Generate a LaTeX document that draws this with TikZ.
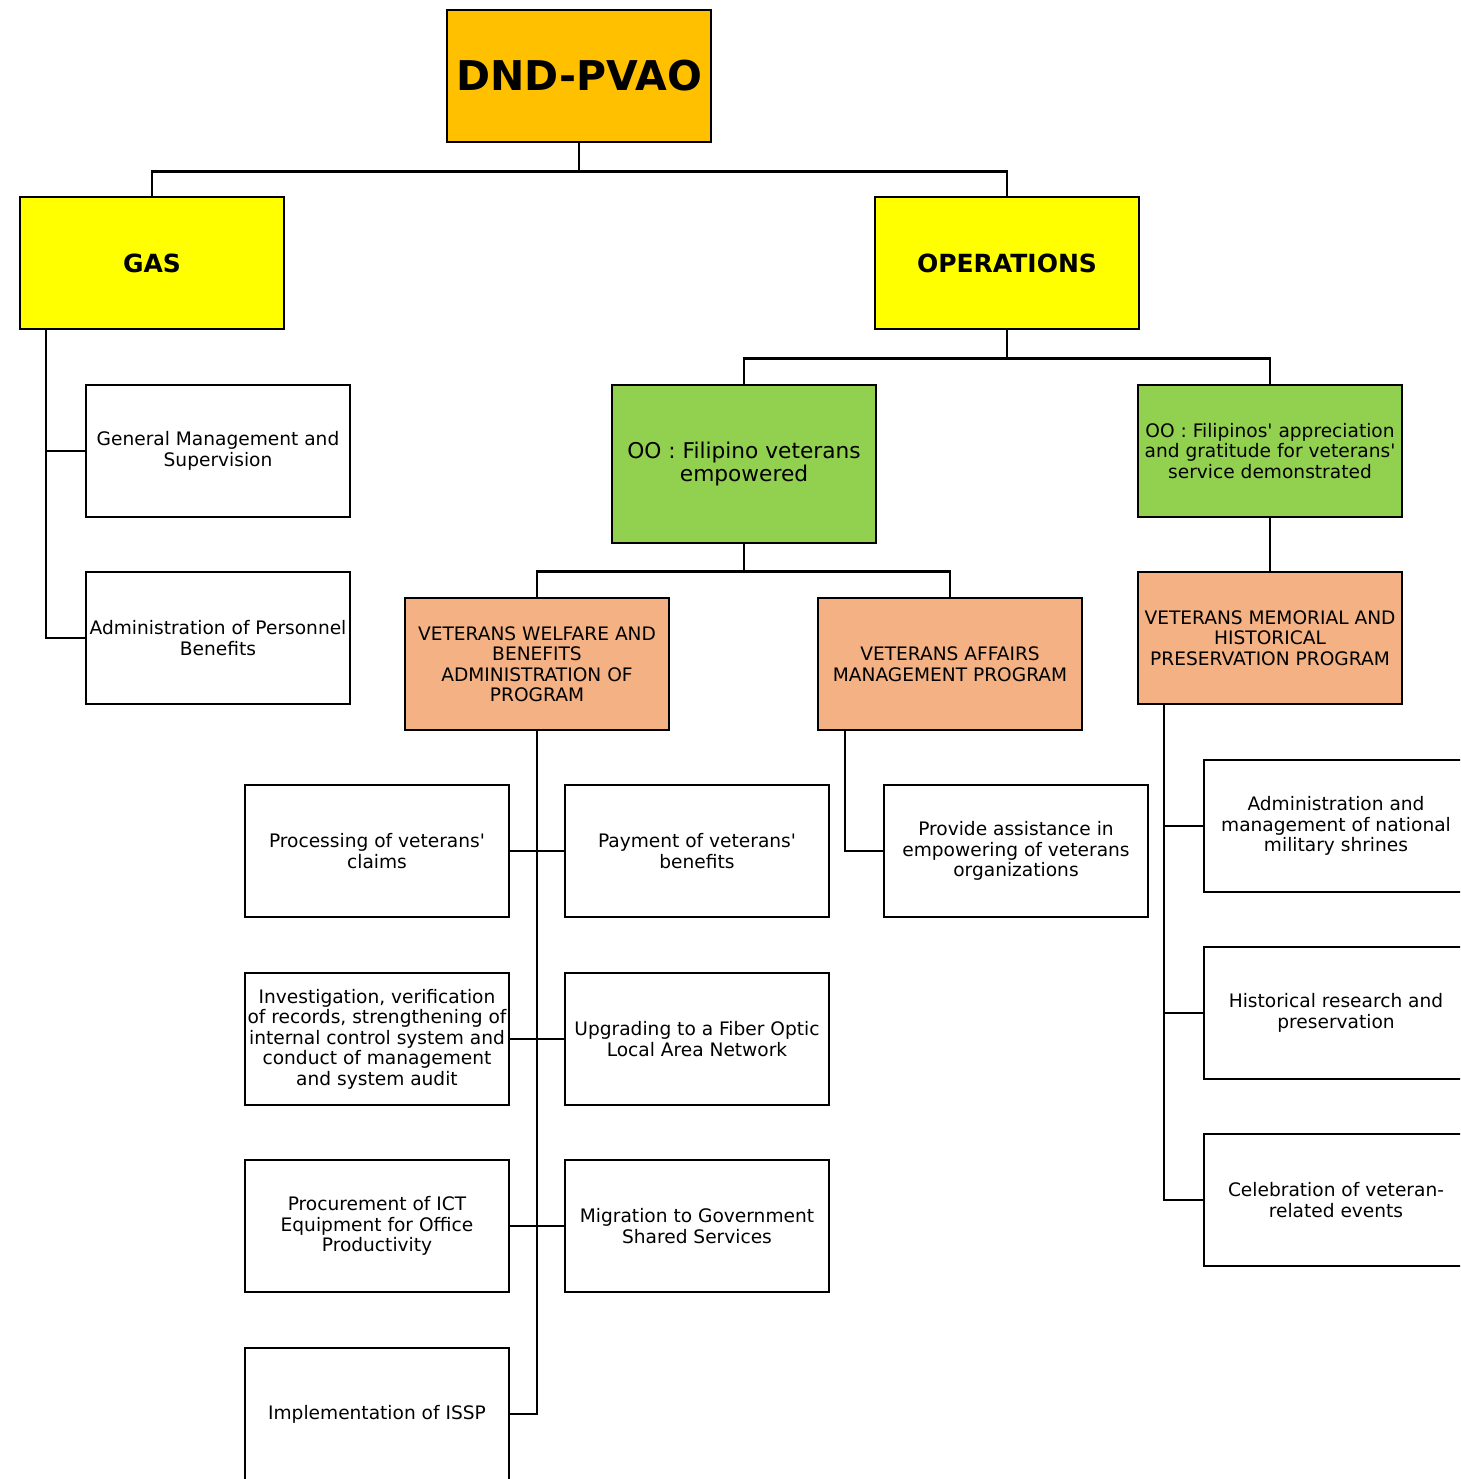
\documentclass[tikz,border=0pt]{standalone}
\usepackage{fontspec}
\setmainfont{DejaVu Sans}
\usepackage{xcolor}
\usepackage{tikz}
\definecolor{topgold}{HTML}{FFC000}
\definecolor{unityellow}{HTML}{FFFF00}
\definecolor{oogreen}{HTML}{92D050}
\definecolor{progsalmon}{HTML}{F4B183}
\newcommand{\aps}{\textquotesingle}
\tikzset{
  box/.style={draw=black, line width=2.9pt, fill=white, inner sep=0pt,
    minimum width=264pt, minimum height=132pt, align=center,
    font=\fontsize{18.6}{20.5}\selectfont},
  topbox/.style={box, fill=topgold, font=\fontsize{41}{46}\selectfont\bfseries},
  unitbox/.style={box, fill=unityellow, font=\fontsize{25}{28}\selectfont\bfseries},
  oobox/.style={box, fill=oogreen},
  progbox/.style={box, fill=progsalmon},
  link/.style={line width=2.9pt, draw=black}
}

\begin{document}
\begin{tikzpicture}[x=1pt, y=-1pt]
  \useasboundingbox (0,0) rectangle (1460,1479);
  \clip (0,0) rectangle (1460,1479);

  % top levels
  \node[topbox] (dnd) at (579,76) {DND-PVAO};
  \node[unitbox] (gas) at (152,263) {GAS};
  \node[unitbox] (ops) at (1007,263) {OPERATIONS};

  % GAS programs
  \node[box] (gms) at (218,451) {General Management and\\Supervision};
  \node[box] (apb) at (218,638) {Administration of Personnel\\Benefits};

  % organizational outcomes
  \node[oobox, minimum height=158pt, font=\fontsize{21.7}{23.5}\selectfont] (oo1) at (744,464)
    {OO : Filipino veterans\\empowered};
  \node[oobox] (oo2) at (1270,451)
    {OO : Filipinos\aps{} appreciation\\and gratitude for veterans\aps\\service demonstrated};

  % programs
  \node[progbox] (vwb) at (537,664)
    {VETERANS WELFARE AND\\BENEFITS\\ADMINISTRATION OF\\PROGRAM};
  \node[progbox] (vam) at (950,664) {VETERANS AFFAIRS\\MANAGEMENT PROGRAM};
  \node[progbox] (vmh) at (1270,638)
    {VETERANS MEMORIAL AND\\HISTORICAL\\PRESERVATION PROGRAM};

  % welfare and benefits activities
  \node[box] (pvc) at (377,851) {Processing of veterans\aps\\claims};
  \node[box] (inv) at (377,1039) {Investigation, verification\\of records, strengthening of\\internal control system and\\conduct of management\\and system audit};
  \node[box] (ict) at (377,1226) {Procurement of ICT\\Equipment for Office\\Productivity};
  \node[box] (issp) at (377,1414) {Implementation of ISSP};
  \node[box] (pay) at (697,851) {Payment of veterans\aps\\benefits};
  \node[box] (fib) at (697,1039) {Upgrading to a Fiber Optic\\Local Area Network};
  \node[box] (mig) at (697,1226) {Migration to Government\\Shared Services};

  % affairs management activity
  \node[box] (pae) at (1016,851) {Provide assistance in\\empowering of veterans\\organizations};

  % memorial activities
  \node[box] (adm) at (1336,826) {Administration and\\management of national\\military shrines};
  \node[box] (his) at (1336,1013) {Historical research and\\preservation};
  \node[box] (cel) at (1336,1200) {Celebration of veteran-\\related events};

  % bus points
  \coordinate (gasbus) at (46,329);
  \coordinate (vambus) at (845,730);
  \coordinate (vmhbus) at (1164,704);

  % connectors
  \draw[link] (dnd.south) -- ++(0,28) -| (gas.north);
  \draw[link] (dnd.south) -- ++(0,28) -| (ops.north);
  \draw[link] (gasbus) |- (gms.west);
  \draw[link] (gasbus) |- (apb.west);
  \draw[link] (ops.south) -- ++(0,28) -| (oo1.north);
  \draw[link] (ops.south) -- ++(0,28) -| (oo2.north);
  \draw[link] (oo1.south) -- ++(0,27) -| (vwb.north);
  \draw[link] (oo1.south) -- ++(0,27) -| (vam.north);
  \draw[link] (oo2.south) -- (vmh.north);
  \draw[link] (vwb.south) |- (issp.east);
  \draw[link] (pvc.east) -- (pay.west);
  \draw[link] (inv.east) -- (fib.west);
  \draw[link] (ict.east) -- (mig.west);
  \draw[link] (vambus) |- (pae.west);
  \draw[link] (vmhbus) |- (adm.west);
  \draw[link] (vmhbus) |- (his.west);
  \draw[link] (vmhbus) |- (cel.west);
\end{tikzpicture}
\end{document}
